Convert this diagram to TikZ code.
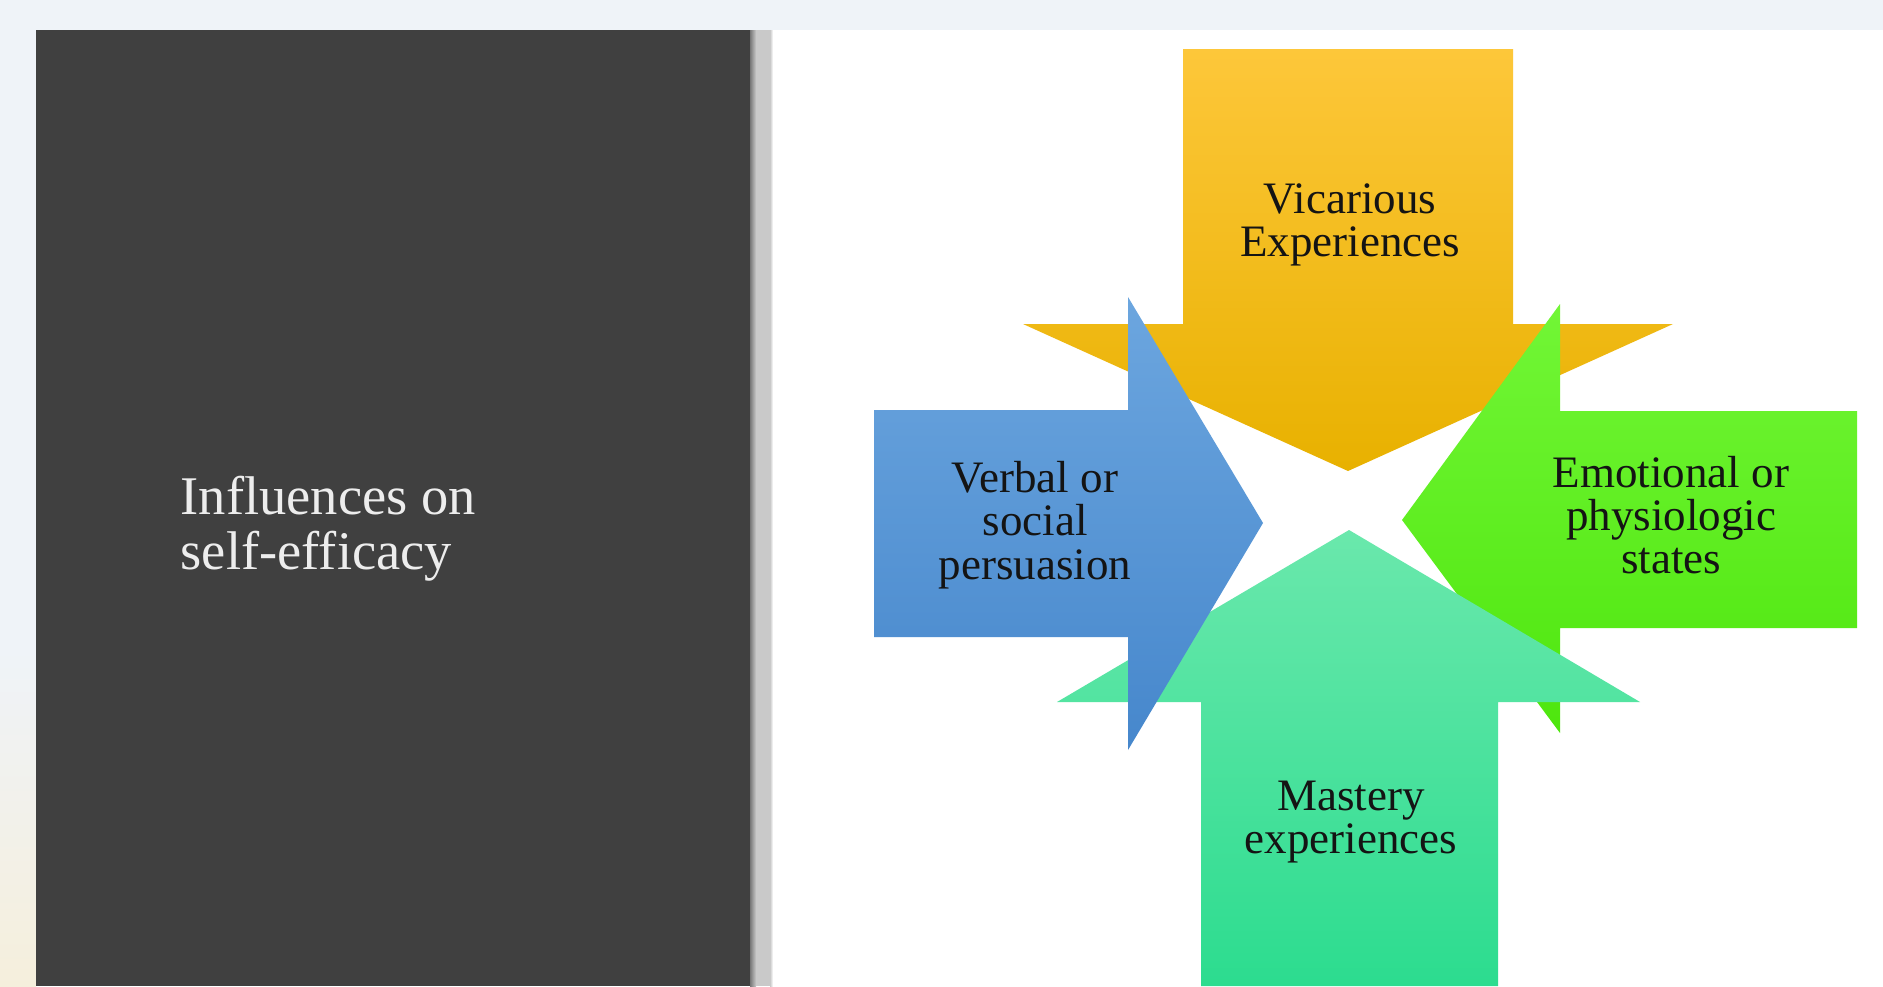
\documentclass[tikz,border=0pt]{standalone}
\usepackage{fontspec}
\setmainfont{Liberation Serif}

\definecolor{pageband}{RGB}{239,243,248}
\definecolor{pagecream}{RGB}{245,239,220}
\definecolor{panelgray}{RGB}{64,64,64}
\definecolor{stripgray}{RGB}{201,201,201}
\definecolor{vicTop}{RGB}{253,199,58}
\definecolor{vicMid}{RGB}{255,192,5}
\definecolor{vicBot}{RGB}{232,177,0}
\definecolor{verbTop}{RGB}{108,166,223}
\definecolor{verbBot}{RGB}{70,135,204}
\definecolor{emoTop}{RGB}{114,246,54}
\definecolor{emoBot}{RGB}{78,230,14}
\definecolor{mastTop}{RGB}{106,232,172}
\definecolor{mastBot}{RGB}{44,220,143}

\begin{document}
\begin{tikzpicture}[every node/.style={font=\fontsize{12.8}{12.3}\selectfont,align=center,text=black!92}]
  \useasboundingbox (0,0) rectangle (18.83,9.86);
  % slide background
  \fill[white] (0,0) rectangle (18.83,9.86);
  \fill[pageband] (0,9.56) rectangle (18.83,9.86);
  \fill[pageband] (0,3.36) rectangle (0.36,9.56);
  \shade[top color=pageband,bottom color=pagecream] (0,0) rectangle (0.36,3.36);

  % title panel
  \fill[panelgray] (0.36,0) rectangle (7.51,9.56);
  \shade[left color=panelgray!60!stripgray,right color=stripgray] (7.50,0) rectangle (7.56,9.56);
  \fill[stripgray] (7.56,0) rectangle (7.70,9.56);
  \shade[left color=stripgray,right color=white] (7.70,0) rectangle (7.73,9.56);
  \node[anchor=west,align=left,inner sep=0,text=white!93!black,font=\fontsize{15.5}{15.6}\selectfont] (title) at (1.80,4.57) {Influences on\\self-efficacy};

  % four arrows, drawn back to front
  \shade[top color=vicTop,middle color=vicMid,bottom color=vicBot] (11.83,9.37) -- (15.13,9.37) -- (15.13,6.62) -- (16.73,6.62) -- (13.48,5.15) -- (10.23,6.62) -- (11.83,6.62) -- cycle;
  \shade[top color=emoTop,bottom color=emoBot] (18.57,5.75) -- (15.60,5.75) -- (15.60,6.82) -- (14.02,4.66) -- (15.60,2.53) -- (15.60,3.58) -- (18.57,3.58) -- cycle;
  \shade[top color=mastTop,bottom color=mastBot] (12.01,0) -- (12.01,2.84) -- (10.57,2.84) -- (13.49,4.56) -- (16.40,2.84) -- (14.98,2.84) -- (14.98,0) -- cycle;
  \shade[top color=verbTop,bottom color=verbBot] (8.74,5.76) -- (11.28,5.76) -- (11.28,6.89) -- (12.63,4.63) -- (11.28,2.36) -- (11.28,3.49) -- (8.74,3.49) -- cycle;

  \node (vic) at (13.50,7.61) {Vicarious\\Experiences};
  \node (verb) at (10.35,4.61) {Verbal or\\social\\persuasion};
  \node (emo) at (16.71,4.71) {Emotional or\\physiologic\\states};
  \node (mast) at (13.51,1.64) {Mastery\\experiences};
\end{tikzpicture}
\end{document}
